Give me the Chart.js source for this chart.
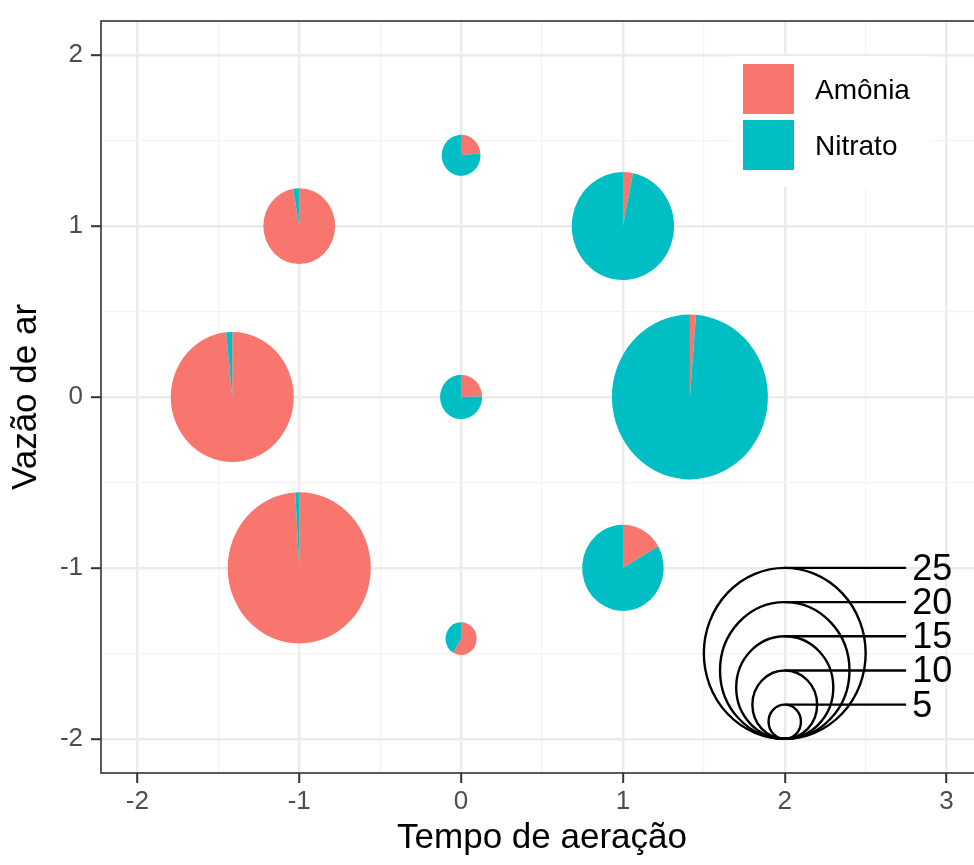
<!DOCTYPE html>
<html>
<head>
<meta charset="utf-8">
<script src="https://cdn.jsdelivr.net/npm/chart.js@4"></script>
<style>
  html, body { margin: 0; padding: 0; background: #fff; overflow: hidden; }
  #wrap { position: relative; width: 1000px; height: 865px; }
</style>
</head>
<body>
<div id="wrap"><canvas id="grafico" width="1000" height="865"></canvas></div>
<script>
// Componentes de cada pizza, na ordem em que são desenhadas (sentido horário a partir do topo)
const categorias = ['Amônia', 'Nitrato'];
const cores = ['#F8766D', '#00BFC4'];

// Pontos do planejamento (variáveis codificadas)
const tempoAeracao = [-1, 1, -1, 1, -1.414, 1.414, 0, 0, 0];
const vazaoAr      = [-1, -1, 1, 1, 0, 0, -1.414, 1.414, 0];

// Concentrações medidas em cada ponto
const amonia  = [21.9, 2.1, 10.8, 0.5, 18.7, 0.3, 2.8, 1.4, 1.6];
const nitrato = [0.2, 10.5, 0.3, 15.3, 0.3, 23.8, 2.0, 4.6, 4.9];

// Valores mostrados na legenda de tamanho
const escalaRaio = [5, 10, 15, 20, 25];

// Marcas dos eixos
const ticksX = [-2, -1, 0, 1, 2, 3];
const ticksY = [-2, -1, 0, 1, 2];

// Raio da pizza, em unidades do eixo, por unidade de concentração total
const raioPorUnidade = 1 / 50;

const FONTE = "'Liberation Sans', Arial, Helvetica, sans-serif";

// Linhas principais nas marcas e secundárias no meio de cada intervalo
function comSecundarias(marcas) {
  const v = [];
  marcas.forEach((m, i) => {
    v.push(m);
    if (i < marcas.length - 1) v.push((m + marcas[i + 1]) / 2);
  });
  return v;
}
const ehPrincipal = v => Number.isInteger(Math.round(v * 1000) / 1000);

function eixo(marcas, min, max, titulo, larguraFixa, alturaFixa, paddingTicks, paddingTitulo) {
  return {
    type: 'linear',
    min, max,
    afterBuildTicks: s => { s.ticks = comSecundarias(marcas).map(value => ({ value })); },
    afterFit: s => {
      if (larguraFixa) s.width = larguraFixa;
      if (alturaFixa) s.height = alturaFixa;
    },
    ticks: {
      autoSkip: false,
      maxRotation: 0,
      padding: paddingTicks,
      color: '#4D4D4D',
      font: { family: FONTE, size: 26, lineHeight: 1 },
      callback: v => (ehPrincipal(v) ? String(Math.round(v)) : '')
    },
    grid: {
      drawTicks: true,
      tickLength: 10,
      color: c => (ehPrincipal(c.tick.value) ? '#EBEBEB' : '#F3F3F3'),
      lineWidth: c => (ehPrincipal(c.tick.value) ? 2.4 : 1.2),
      tickColor: c => (ehPrincipal(c.tick.value) ? '#333333' : 'rgba(0,0,0,0)'),
      tickWidth: 2
    },
    border: { display: false },
    title: {
      display: true,
      text: titulo,
      color: '#000',
      font: { family: FONTE, size: 35 },
      padding: paddingTitulo
    }
  };
}

// Desenha as pizzas, a legenda de tamanho, a legenda de cores e a moldura do painel
const pizzas = {
  id: 'pizzas',
  afterDatasetsDraw(chart) {
    const { ctx, chartArea: a, scales: { x, y } } = chart;
    ctx.save();
    ctx.beginPath();
    ctx.rect(a.left, a.top, a.right - a.left, a.bottom - a.top);
    ctx.clip();

    tempoAeracao.forEach((tx, k) => {
      const valores = [amonia[k], nitrato[k]];
      const total = valores[0] + valores[1];
      const r = total * raioPorUnidade;
      const cx = x.getPixelForValue(tx);
      const cy = y.getPixelForValue(vazaoAr[k]);
      const rx = x.getPixelForValue(tx + r) - cx;
      const ry = cy - y.getPixelForValue(vazaoAr[k] + r);
      let a0 = -Math.PI / 2;
      valores.forEach((v, i) => {
        const a1 = a0 + (v / total) * Math.PI * 2;
        ctx.beginPath();
        ctx.moveTo(cx, cy);
        ctx.ellipse(cx, cy, rx, ry, 0, a0, a1);
        ctx.closePath();
        ctx.fillStyle = cores[i];
        ctx.fill();
        a0 = a1;
      });
    });

    // Legenda de tamanho: círculos apoiados em (2, -2)
    const lx = 2, ly = -2;
    const rMax = Math.max(...escalaRaio) * raioPorUnidade;
    const xFimLinha = x.getPixelForValue(lx + 1.5 * rMax);
    ctx.strokeStyle = '#000';
    ctx.lineWidth = 2.4;
    ctx.fillStyle = '#000';
    ctx.font = `36px ${FONTE}`;
    ctx.textAlign = 'left';
    ctx.textBaseline = 'middle';
    escalaRaio.forEach(v => {
      const r = v * raioPorUnidade;
      const cx = x.getPixelForValue(lx);
      const cy = y.getPixelForValue(ly + r);
      const rx = x.getPixelForValue(lx + r) - cx;
      const ry = cy - y.getPixelForValue(ly + 2 * r);
      ctx.beginPath();
      ctx.ellipse(cx, cy, rx, ry, 0, 0, Math.PI * 2);
      ctx.stroke();
      const yTopo = y.getPixelForValue(ly + 2 * r);
      ctx.beginPath();
      ctx.moveTo(cx, yTopo);
      ctx.lineTo(xFimLinha, yTopo);
      ctx.stroke();
      ctx.fillText(String(v), xFimLinha + 6, yTopo + 2);
    });
    ctx.restore();

    // Legenda de cores
    ctx.save();
    const bx = a.left + 632, by = a.top + 35;
    ctx.fillStyle = '#fff';
    ctx.fillRect(bx, by, 197, 131);
    ctx.font = `28px ${FONTE}`;
    ctx.textAlign = 'left';
    ctx.textBaseline = 'middle';
    categorias.forEach((nome, i) => {
      const ky = by + 8 + i * 56;
      ctx.fillStyle = cores[i];
      ctx.fillRect(bx + 10, ky, 51, 50);
      ctx.fillStyle = '#000';
      ctx.fillText(nome, bx + 82, ky + 27);
    });
    ctx.restore();

    // Moldura do painel
    ctx.save();
    ctx.strokeStyle = '#333333';
    ctx.lineWidth = 1.6;
    ctx.strokeRect(a.left, a.top, a.right - a.left, a.bottom - a.top);
    ctx.restore();
  }
};

new Chart(document.getElementById('grafico'), {
  type: 'scatter',
  data: {
    datasets: categorias.map((nome, i) => ({
      label: nome,
      backgroundColor: cores[i],
      borderColor: cores[i],
      pointRadius: 0,
      data: tempoAeracao.map((tx, k) => ({ x: tx, y: vazaoAr[k] }))
    }))
  },
  options: {
    responsive: false,
    animation: false,
    layout: { padding: { left: 0, top: 17, right: 17, bottom: 0 } },
    plugins: { legend: { display: false }, tooltip: { enabled: false } },
    scales: {
      x: eixo(ticksX, -2.225, 3.225, 'Tempo de aeração', 0, 92, 6, { top: 0, bottom: 6 }),
      y: eixo(ticksY, -2.2, 2.2, 'Vazão de ar', 101, 0, 8, { top: 5, bottom: 0 })
    }
  },
  plugins: [pizzas]
});
</script>
</body>
</html>
